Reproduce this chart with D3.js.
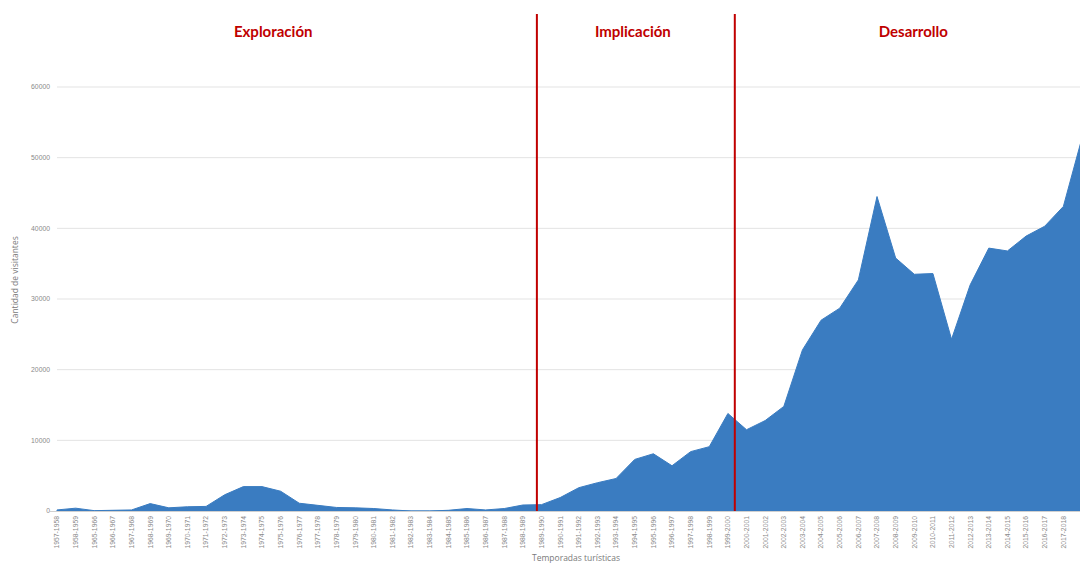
<!DOCTYPE html>
<html>
<head>
<meta charset="utf-8">
<script src="https://cdn.jsdelivr.net/npm/d3@7"></script>
<style>
    body { margin: 0; background: #fff; }
    svg { display: block; }
    .grid line { stroke: #e3e3e3; stroke-width: 1; }
    .tick-label { font-family: "Liberation Sans", Arial, sans-serif; font-size: 6.8px; fill: #8a8a8a; }
    .axis-title { font-family: "Open Sans", sans-serif; font-size: 8.5px; fill: #7a7a7a; }
    .phase-title { font-family: Lato, sans-serif; font-weight: bold; font-size: 15px; fill: #c00000; }
</style>
</head>
<body>
<div id="chart"></div>
<script>
// seasons (x categories)
const seasons = ["1957-1958", "1958-1959"]
for (let y = 1965; y <= 2018; y++) seasons.push(`${y}-${y + 1}`)

// visitors per season
const visitors = [
    150, 400, 50, 100, 150, 1050, 450, 600, 650, 2300,
    3450, 3450, 2800, 1100, 800, 500, 450, 350, 150, 0,
    0, 100, 350, 150, 350, 850, 900, 1900, 3300, 4000,
    4600, 7300, 8100, 6400, 8400, 9100, 13800, 11500, 12800, 14800,
    22800, 27000, 28700, 32700, 44500, 35800, 33500, 33600, 24300, 32000,
    37200, 36800, 38900, 40300, 43100, 52800
]

const yTicks = [0, 10000, 20000, 30000, 40000, 50000, 60000]

// phases: names, centre of title and boundary, in season-index units
const phaseNames = ["Exploración", "Implicación", "Desarrollo"]
const phaseTitleAt = [11.6, 30.9, 45.95]
const phaseBounds = [25.75, 36.37]

const W = 1080, H = 564
const margin = { top: 14, left: 57, bottom: 53 }

const svg = d3.select("#chart").append("svg")
    .attr("width", W)
    .attr("height", H)

const x = d3.scaleLinear()
    .domain([0, seasons.length - 1])
    .range([margin.left, 1082])

const y = d3.scaleLinear()
    .domain([0, 60000])
    .range([H - margin.bottom, 87])

// gridlines
svg.append("g").attr("class", "grid")
    .selectAll("line")
    .data(yTicks.slice(1))
    .enter()
    .append("line")
        .attr("x1", margin.left)
        .attr("x2", W)
        .attr("y1", (d) => y(d))
        .attr("y2", (d) => y(d))

// y labels
svg.append("g")
    .selectAll("text")
    .data(yTicks)
    .enter()
    .append("text")
        .attr("class", "tick-label")
        .attr("x", 50)
        .attr("y", (d) => y(d))
        .attr("dy", "0.35em")
        .attr("text-anchor", "end")
        .text((d) => d)

// area
const area = d3.area()
    .x((d, i) => x(i))
    .y0(y(0))
    .y1((d) => y(d))

svg.append("path")
    .datum(visitors)
    .attr("d", area)
    .attr("fill", "#3a7cc1")
    .attr("stroke", "#3a7cc1")
    .attr("stroke-width", 1)

// x axis line
svg.append("line")
    .attr("x1", 50)
    .attr("x2", W)
    .attr("y1", y(0) + 0.5)
    .attr("y2", y(0) + 0.5)
    .attr("stroke", "#d0d0d0")

// x labels (the last season falls off the right edge, as in the picture)
svg.append("g")
    .selectAll("text")
    .data(seasons.filter((d, i) => x(i) < W - 6))
    .enter()
    .append("text")
        .attr("class", "tick-label")
        .attr("transform", (d, i) => `translate(${x(i)},${y(0) + 5})rotate(-90)`)
        .attr("dy", "0.35em")
        .attr("text-anchor", "end")
        .text((d) => d)

// axis titles
svg.append("text")
    .attr("class", "axis-title")
    .attr("x", 576)
    .attr("y", 561)
    .attr("text-anchor", "middle")
    .text("Temporadas turísticas")

svg.append("text")
    .attr("class", "axis-title")
    .attr("transform", "translate(18,280)rotate(-90)")
    .attr("text-anchor", "middle")
    .text("Cantidad de visitantes")

// phase boundaries
svg.append("g")
    .selectAll("line")
    .data(phaseBounds)
    .enter()
    .append("line")
        .attr("x1", (d) => x(d))
        .attr("x2", (d) => x(d))
        .attr("y1", margin.top)
        .attr("y2", y(0))
        .attr("stroke", "#c00000")
        .attr("stroke-width", 2)

// phase titles
svg.append("g")
    .selectAll("text")
    .data(phaseNames)
    .enter()
    .append("text")
        .attr("class", "phase-title")
        .attr("x", (d, i) => x(phaseTitleAt[i]))
        .attr("y", 37)
        .attr("text-anchor", "middle")
        .text((d) => d)
</script>
</body>
</html>
